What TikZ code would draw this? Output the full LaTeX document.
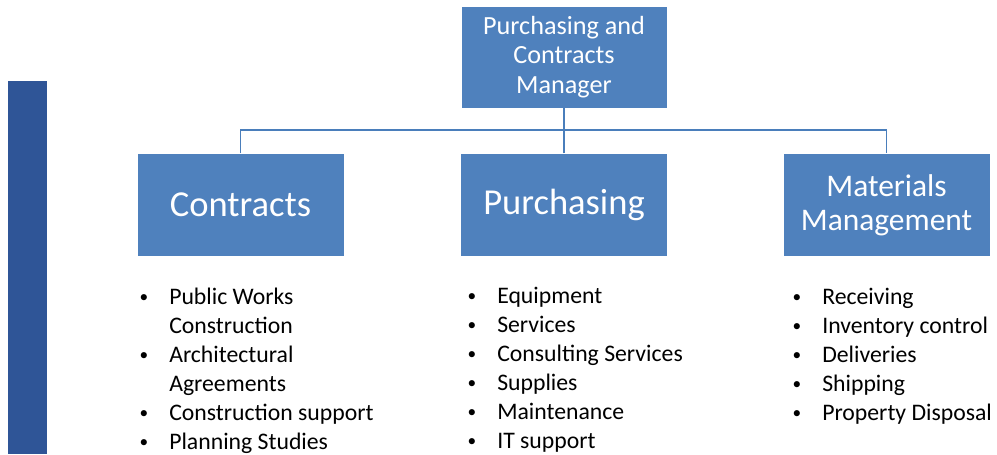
\documentclass[tikz,border=0pt]{standalone}
\usepackage{fontspec}
\setmainfont{Carlito}
\usetikzlibrary{positioning}
\definecolor{boxblue}{RGB}{79,129,189}
\definecolor{barblue}{RGB}{47,85,151}
\definecolor{lineblue}{RGB}{74,126,187}
\newcommand{\bul}{\makebox[23.25pt][l]{\hspace*{1pt}\raisebox{1.3pt}{\fontsize{13}{13}\selectfont\textbullet}}}
\newcommand{\ind}{\hspace*{23.25pt}}

\begin{document}
\begin{tikzpicture}[x=0.75pt, y=-0.75pt,
    unit/.style={draw=white, fill=boxblue, text=white, minimum width=155.25pt, minimum height=77.25pt, inner sep=2pt, align=center},
    lst/.style={anchor=north west, inner sep=0pt, align=left, font=\fontsize{17.8}{21.75}\selectfont},
    conn/.style={draw=lineblue, line width=0.9pt}]

    \useasboundingbox (0,0) rectangle (997,454);

    % Side bar
    \fill[barblue] (8,81) rectangle (47,454);

    % Nodes
    \node (mgr) [unit, minimum width=154.5pt, minimum height=76.5pt, font=\fontsize{19.65}{22.1}\selectfont] at (564,57) {Purchasing and\\Contracts\\Manager};
    \node (pur) [unit, below=33.75pt of mgr, font=\fontsize{27.4}{32}\selectfont] {Purchasing};
    \node (con) [unit, left=87pt of pur, font=\fontsize{27.4}{32}\selectfont] {Contracts};
    \node (mat) [unit, right=86.25pt of pur, font=\fontsize{23.6}{25.5}\selectfont] {Materials\\Management};

    % Lists
    \node (conlist) [lst] at (138,284) {\strut\bul Public Works\\\strut\ind Construction\\\strut\bul Architectural\\\strut\ind Agreements\\\strut\bul Construction support\\\strut\bul Planning Studies};
    \node (purlist) [lst] at (466,283) {\strut\bul Equipment\\\strut\bul Services\\\strut\bul Consulting Services\\\strut\bul Supplies\\\strut\bul Maintenance\\\strut\bul IT support};
    \node (matlist) [lst] at (791,284) {\strut\bul Receiving\\\strut\bul Inventory control\\\strut\bul Deliveries\\\strut\bul Shipping\\\strut\bul Property Disposal};

    % Lines
    \coordinate (bus) at (0,130);
    \draw [conn] (mgr.south) -- (mgr.south |- bus);
    \draw [conn] (con.north) -- (con.north |- bus) -- (mat.north |- bus) -- (mat.north);
    \draw [conn] (pur.north) -- (pur.north |- bus);

\end{tikzpicture}
\end{document}
